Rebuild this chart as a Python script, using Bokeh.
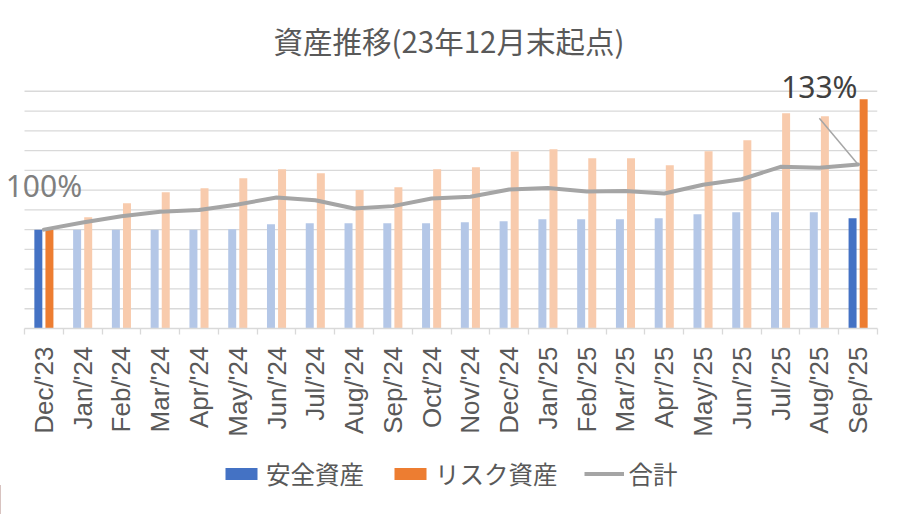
import math
from bokeh.plotting import figure
from bokeh.layouts import column
from bokeh.models import (Range1d, ColumnDataSource, LinearAxis,
                          FixedTicker, Legend, LegendItem, Label)
from bokeh.transform import dodge
from bokeh.embed import file_html
from bokeh.resources import INLINE

# ---- data ----
months = ["Dec/'23", "Jan/'24", "Feb/'24", "Mar/'24", "Apr/'24", "May/'24", "Jun/'24",
          "Jul/'24", "Aug/'24", "Sep/'24", "Oct/'24", "Nov/'24", "Dec/'24", "Jan/'25",
          "Feb/'25", "Mar/'25", "Apr/'25", "May/'25", "Jun/'25", "Jul/'25", "Aug/'25", "Sep/'25"]
safe = [100, 100, 100, 100, 100, 100.4, 105.5, 106.5, 106.5, 106.5, 106.5, 107.5, 108.5,
        110.6, 110.6, 110.6, 111.6, 115.6, 117.7, 117.7, 117.7, 111.6]
risk = [100, 112.6, 126.8, 137.9, 141.9, 152.0, 161.2, 157.1, 140.2, 142.9, 161.2, 163.2, 179.0,
        181.4, 172.3, 172.3, 165.2, 179.4, 190.5, 217.8, 214.8, 232.0]
total = [100, 103.6, 106.8, 109.0, 109.9, 112.7, 116.3, 114.9, 110.7, 111.9, 115.8, 116.6, 120.3,
         121.1, 119.3, 119.5, 118.3, 122.7, 125.5, 131.8, 131.3, 133.0]
series_names = ["安全資産", "リスク資産", "合計"]
grid_ticks = [20, 40, 60, 80, 100, 120, 140, 160, 180, 200, 220, 240]

n = len(months)
last = n - 1
BLUE, BLUE_L = "#4472C4", "#B4C7E7"
ORANGE, ORANGE_L = "#ED7D31", "#F8CBAD"
GRAY = "#A5A5A5"
TXT = "#595959"
GRID = "#D9D9D9"

centers = [i + 0.5 for i in range(n)]
hi = [i in (0, last) for i in range(n)]
src = ColumnDataSource(dict(
    xc=centers, safe=safe, risk=risk, total=total,
    safe_color=[BLUE if h else BLUE_L for h in hi],
    risk_color=[ORANGE if h else ORANGE_L for h in hi],
))

p = figure(width=900, height=455, output_backend="svg", toolbar_location=None,
           x_range=Range1d(-0.619, n), y_range=Range1d(0, 260),
           x_axis_location=None, y_axis_location=None,
           min_border_left=0, min_border_right=23, min_border_top=71, min_border_bottom=127)
p.extra_y_ranges = {"pct": Range1d(50, 50 + 260 / 2)}
p.outline_line_color = None
p.background_fill_color = "white"
p.border_fill_color = "white"
p.grid.visible = False

p.title.text = "資産推移(23年12月末起点)"
p.title.align = "left"
p.title.offset = 273
p.title.text_font = "Noto Sans CJK JP"
p.title.text_font_size = "29.5px"
p.title.text_font_style = "normal"
p.title.text_color = TXT
p.title.standoff = 21

# horizontal gridlines over the category span
p.segment(x0=[0] * len(grid_ticks), x1=[n] * len(grid_ticks), y0=grid_ticks, y1=grid_ticks,
          line_color=GRID, line_width=1.3, level="underlay")

# tick axis at category boundaries
tick_axis = LinearAxis(ticker=FixedTicker(ticks=list(range(n + 1))), bounds=(0, n),
                       major_label_text_alpha=0, major_label_text_font_size="0px",
                       major_label_standoff=0,
                       major_tick_out=6, major_tick_in=0, minor_tick_out=0, minor_tick_in=0,
                       axis_line_color=GRID, axis_line_width=1.3,
                       major_tick_line_color=GRID, major_tick_line_width=1.3)
p.add_layout(tick_axis, "below")

# category label axis at category centres
cat_axis = LinearAxis(ticker=FixedTicker(ticks=centers),
                      major_label_overrides={c: m for c, m in zip(centers, months)},
                      major_label_orientation=math.pi / 2, major_label_standoff=12,
                      major_tick_out=0, major_tick_in=0, minor_tick_out=0, minor_tick_in=0,
                      axis_line_color=None, major_tick_line_color=None,
                      major_label_text_font="Liberation Sans",
                      major_label_text_font_size="26px",
                      major_label_text_color=TXT)
p.add_layout(cat_axis, "below")

w = 0.206
r_safe = p.vbar(x=dodge("xc", -0.143), top="safe", width=w, bottom=0,
                source=src, fill_color="safe_color", line_color=None)
r_risk = p.vbar(x=dodge("xc", 0.143), top="risk", width=w, bottom=0,
                source=src, fill_color="risk_color", line_color=None)
r_total = p.line(x="xc", y="total", source=src, y_range_name="pct",
                 line_color=GRAY, line_width=4, line_join="round", line_cap="round")

# data labels
p.add_layout(Label(x=centers[0], y=total[0], y_range_name="pct",
                   text=f"{total[0]:.0f}%", text_align="center", text_baseline="middle",
                   y_offset=44, text_font="Noto Sans", text_font_size="30px",
                   text_color="#7F7F7F"))
p.add_layout(Label(x=centers[-2], y=total[-1], y_range_name="pct",
                   text=f"{total[-1]:.0f}%", text_align="center", text_baseline="middle",
                   y_offset=78, text_font="Noto Sans", text_font_size="30px",
                   text_color="#404040"))
p.segment(x0=[centers[-2]], y0=[total[-1] + 23.4], x1=[centers[-1]], y1=[total[-1]],
          y_range_name="pct", line_color="#A6A6A6", line_width=1.5)

# legend strip (separate figure below the chart; swatch renderers lie outside its view)
pl = figure(width=900, height=59, output_backend="svg", toolbar_location=None,
            x_range=Range1d(0, 1), y_range=Range1d(0, 1),
            x_axis_location=None, y_axis_location=None,
            min_border_left=0, min_border_right=0, min_border_top=0, min_border_bottom=0)
pl.outline_line_color = None
pl.grid.visible = False
pl.border_fill_color = "white"
lg_safe = pl.vbar(x=[-5], top=[0.5], width=0.1, fill_color=BLUE, line_color=None)
lg_risk = pl.vbar(x=[-5], top=[0.5], width=0.1, fill_color=ORANGE, line_color=None)
lg_total = pl.line(x=[-6, -5], y=[0.5, 0.5], line_color=GRAY, line_width=4)
legend = Legend(items=[LegendItem(label=series_names[0], renderers=[lg_safe]),
                       LegendItem(label=series_names[1], renderers=[lg_risk]),
                       LegendItem(label=series_names[2], renderers=[lg_total])],
                orientation="horizontal", location=(221, 23),
                label_text_font="Noto Sans CJK JP", label_text_font_size="24.5px",
                label_text_color=TXT, glyph_width=40, glyph_height=15,
                spacing=26, label_standoff=5, border_line_color=None,
                background_fill_alpha=0, margin=0, padding=5)
pl.add_layout(legend)

layout = column(p, pl, spacing=0)
open("out.html", "w").write(file_html(layout, INLINE))
